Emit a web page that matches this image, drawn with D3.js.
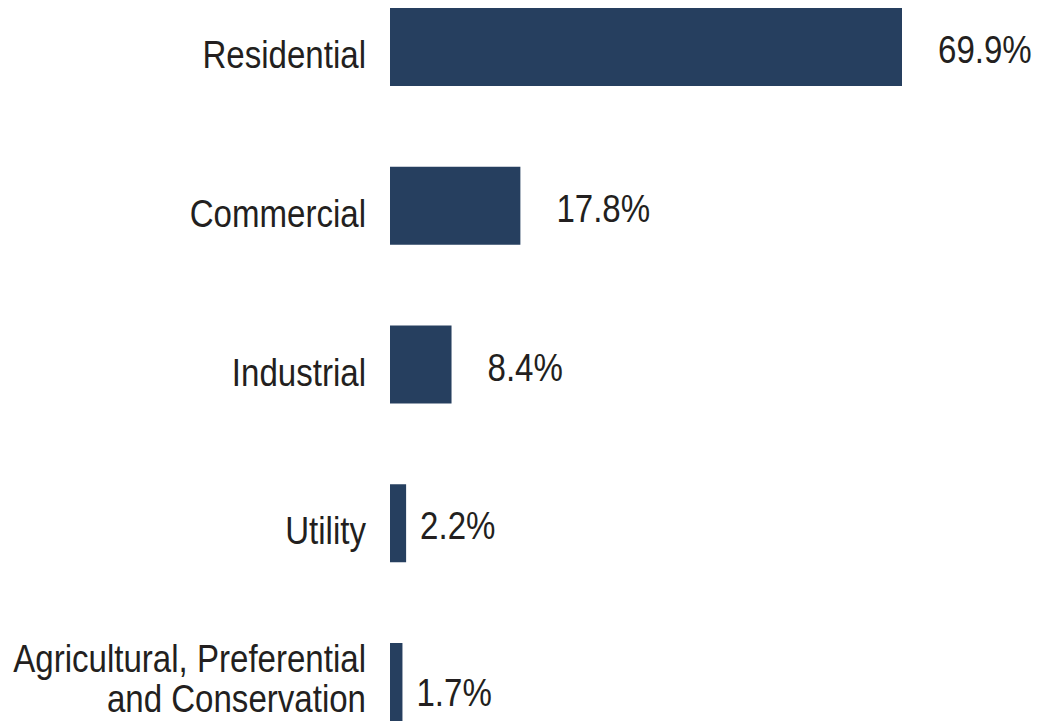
<!DOCTYPE html>
<html><head><meta charset="utf-8">
<script src="https://cdn.jsdelivr.net/npm/d3@7"></script>
<style>body{margin:0;background:#fff}svg{display:block}</style>
</head><body>
<svg id="c" width="1040" height="721"></svg>
<script>
const categories = [["Residential"], ["Commercial"], ["Industrial"], ["Utility"], ["Agricultural, Preferential", "and Conservation"]];
const values = [69.9, 17.8, 8.4, 2.2, 1.7];
const valueLabels = ["69.9%", "17.8%", "8.4%", "2.2%", "1.7%"];

const svg = d3.select("#c");
const font = "'Liberation Sans', Arial, sans-serif";
const fs = 38, sx = 0.87;
const x = d3.scaleLinear().domain([0, 69.9]).range([390, 902]);
const y = d3.scaleBand().domain(d3.range(values.length)).range([8, 721]).paddingInner(0.5087).paddingOuter(0);
const cy = i => y(i) + y.bandwidth()/2;

svg.selectAll("rect.bar").data(values).join("rect").attr("class","bar")
  .attr("x", x(0)).attr("y", (d,i)=>y(i)).attr("width", d=>x(d)-x(0)).attr("height", y.bandwidth())
  .attr("fill", "#263f5f");

const cg = svg.selectAll("g.cat").data(categories).join("g").attr("class","cat")
  .attr("transform", (d,i)=>`translate(366,${d.length>1 ? cy(i)-10 : cy(i)+21}) scale(${sx},1)`);
cg.append("text").attr("text-anchor","end").attr("font-family",font).attr("font-size",fs).attr("fill","#231f20")
  .selectAll("tspan").data(d=>d).join("tspan").attr("x",0).attr("y",(d,j)=>j*40).text(d=>d);

svg.selectAll("g.val").data(values).join("g").attr("class","val")
  .attr("transform", (d,i)=>`translate(${x(d) + (d > 5 ? 36 : 14)},${cy(i) + (categories[i].length>1 ? 24 : 16)}) scale(${sx},1)`)
  .append("text").attr("font-family",font).attr("font-size",fs).attr("fill","#231f20")
  .text((d,i)=>valueLabels[i]);
</script>
</body></html>
